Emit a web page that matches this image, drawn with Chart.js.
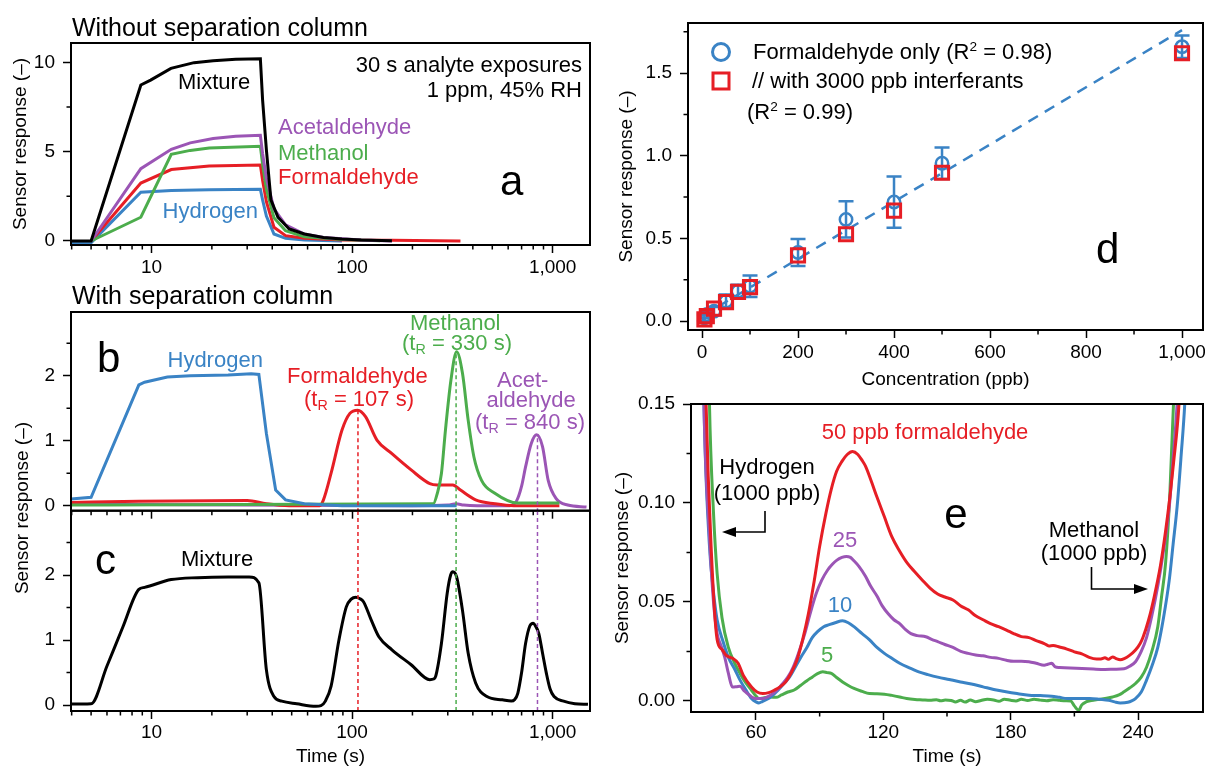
<!DOCTYPE html>
<html>
<head>
<meta charset="utf-8">
<title>Formaldehyde sensing with and without a separation column</title>
<script src="https://cdn.jsdelivr.net/npm/chart.js@4.4.1/dist/chart.umd.min.js"></script>
<style>
  html, body { margin: 0; padding: 0; background: #fff; }
  #fig { position: relative; width: 1205px; height: 767px; overflow: hidden;
         font-family: 'Liberation Sans', Arial, Helvetica, sans-serif; color: #000; }
  #fig canvas { position: absolute; left: 0; top: 0; }
  .lbl { position: absolute; white-space: nowrap; line-height: 1; }
  .lbl sub { font-size: 0.65em; vertical-align: -0.3em; line-height: 0; }
  .lbl sup { font-size: 0.62em; vertical-align: 0.62em; line-height: 0; }
  #arrows { position: absolute; left: 0; top: 0; }
</style>
</head>
<body>
<div id="fig">
  <canvas id="pa" width="1205" height="767"></canvas>
  <canvas id="pb" width="1205" height="767"></canvas>
  <canvas id="pc" width="1205" height="767"></canvas>
  <canvas id="pd" width="1205" height="767"></canvas>
  <canvas id="pe" width="1205" height="767"></canvas>
  <svg id="arrows" width="1205" height="767">
    <path d="M765 511 V532 H733" stroke="#000" stroke-width="1.6" fill="none"/>
    <polygon points="722,532 736,527 736,537" fill="#000"/>
    <path d="M1091.5 567 V589 H1136" stroke="#000" stroke-width="1.6" fill="none"/>
    <polygon points="1148,589 1134,584 1134,594" fill="#000"/>
  </svg>
</div>
<script>
// ---------- Panel a: response without separation column (log time axis) ----------
const aMixtureT = [3.9, 5.0, 8.85, 9.9, 12.5, 16.3, 20.3, 26.3, 34.9, 35.8, 37.4, 39.4, 42.7, 48.6, 57.8, 72, 89, 111, 158];
const aMixtureR = [0, 0, 8.73, 9.0, 9.66, 9.98, 10.09, 10.17, 10.2, 7.9, 5.1, 2.3, 1.33, 0.67, 0.39, 0.2, 0.11, 0.06, 0.02];
const aAcetT = [5.0, 8.85, 12.55, 15.6, 20.3, 26.3, 34.9, 35.8, 37.4, 40.8, 46.6, 57.8, 72, 111, 158];
const aAcetR = [0, 4.05, 5.13, 5.49, 5.73, 5.86, 5.92, 4.9, 3.5, 1.8, 0.9, 0.39, 0.2, 0.06, 0.0];
const aMethT = [5.0, 8.85, 12.55, 15.6, 19.4, 34.9, 35.8, 37.4, 40.8, 46.6, 57.8, 89, 138];
const aMethR = [0, 1.33, 4.85, 5.07, 5.2, 5.3, 4.3, 2.9, 1.3, 0.58, 0.24, 0.09, 0.02];
const aFormT = [5.0, 8.85, 12.55, 19.4, 34.9, 35.8, 37.4, 40.8, 46.6, 57.8, 89, 158, 347];
const aFormR = [0, 3.24, 4.0, 4.19, 4.25, 3.4, 2.2, 0.77, 0.3, 0.15, 0.06, 0.04, 0.0];
const aHydT = [3.9, 5.0, 8.85, 12.55, 19.4, 34.9, 35.8, 37.4, 40.8, 46.6, 57.8, 89];
const aHydR = [-0.1, -0.1, 2.73, 2.83, 2.87, 2.9, 2.3, 1.4, 0.39, 0.15, 0.06, 0.0];

// ---------- Panel b: single analytes with separation column ----------
const bHydT = [3.9, 5.0, 8.65, 9.24, 12.0, 15.6, 24.1, 31.4, 34.3, 37.4, 41.6, 46.6, 57.8, 89, 332];
const bHydR = [0.1, 0.13, 1.86, 1.9, 1.98, 2.0, 2.01, 2.03, 2.02, 1.11, 0.24, 0.09, 0.03, 0.0, 0.0];
const bFormT = [3.9, 8.65, 30, 37.4, 48.6, 69, 72, 78.6, 89, 97.5, 106.7, 116.7, 133, 158, 197, 244, 266, 318, 347, 413, 515, 640, 1080];
const bFormR = [0.05, 0.07, 0.08, 0.03, 0.0, 0.0, 0.09, 0.5, 1.16, 1.42, 1.47, 1.37, 1.01, 0.8, 0.55, 0.34, 0.32, 0.32, 0.24, 0.09, 0.03, 0.0, 0.0];
const bMethT = [3.9, 254, 266, 279, 292, 311, 332, 355, 379, 405, 442, 515, 670, 1080];
const bMethR = [0.01, 0.03, 0.19, 0.5, 1.16, 1.93, 2.37, 2.04, 1.32, 0.75, 0.39, 0.19, 0.04, 0.04];
const bAcetT = [3.9, 200, 300, 330, 360, 420, 612, 660, 700, 733, 783, 832, 890, 950, 1041, 1188, 1475];
const bAcetR = [0.025, 0.0, 0.01, 0.03, 0.01, 0.0, 0.0, 0.07, 0.3, 0.6, 0.96, 1.09, 0.91, 0.39, 0.11, 0.01, -0.02];

// Retention times and their peak heights in panel b
const retentionTimes = [107, 330, 840];
const retentionPeaks = [1.46, 2.37, 1.09];

// ---------- Panel c: mixture with separation column ----------
const cMixT = [3.9, 5.0, 6.0, 7.2, 8.65, 9.24, 12.55, 17.0, 24.1, 30.7, 34.3, 37.4, 40.8, 44.6, 53, 66, 70, 73.6, 78.6, 86, 93.6, 99, 104.5, 109, 114, 124.5, 136, 158, 197, 244, 255, 261, 279, 298, 310, 318, 332, 355, 379, 413, 470, 561, 622, 645, 670, 700, 733, 770, 800, 820, 853, 890, 930, 970, 1016, 1134, 1290, 1500];
const cMixR = [0.015, 0.02, 0.6, 1.2, 1.78, 1.81, 1.93, 1.96, 1.97, 1.97, 1.88, 0.54, 0.13, 0.06, 0.02, -0.02, -0.01, 0.06, 0.29, 1.0, 1.51, 1.63, 1.66, 1.64, 1.59, 1.31, 1.05, 0.85, 0.62, 0.39, 0.40, 0.44, 0.95, 1.72, 2.0, 2.05, 1.97, 1.46, 0.8, 0.34, 0.13, 0.08, 0.06, 0.08, 0.18, 0.5, 0.95, 1.22, 1.26, 1.22, 1.1, 0.8, 0.49, 0.25, 0.13, 0.06, 0.02, 0.01];

// ---------- Panel d: calibration ----------
const dConc = [5, 10, 25, 50, 75, 100, 200, 300, 400, 500, 1000];
const dOnly = [0.02, 0.04, 0.06, 0.12, 0.18, 0.21, 0.415, 0.615, 0.72, 0.955, 1.66];
const dOnlyErr = [0.02, 0.02, 0.025, 0.04, 0.04, 0.065, 0.082, 0.11, 0.155, 0.095, 0.068];
const dInterf = [0.01, 0.03, 0.075, 0.115, 0.177, 0.205, 0.397, 0.525, 0.668, 0.897, 1.62];
const dFitX = [0, 1000];
const dFitY = [0.03, 1.76];

// ---------- Panel e: low-concentration formaldehyde between H2 and MeOH ----------
const e50T = [34, 36.5, 39, 41.7, 44, 46, 49, 51.6, 54, 57.9, 60.5, 63.2, 66, 68.6, 71.5, 74, 76.5, 79.3, 82, 84.7, 87.5, 90, 93, 95.5, 98, 100.5, 103, 105.5, 108, 110, 111.6, 114, 117, 120.5, 124, 127.5, 131.3, 135, 138.4, 142, 145.6, 149, 152.8, 156.5, 160, 163.5, 167, 170.5, 174.3, 178, 181.4, 185, 188.6, 192, 195.8, 198, 200, 203, 206.5, 210, 213.5, 217, 220.5, 222.5, 224.4, 226, 228, 230, 231.6, 233.5, 236, 238.8, 241, 242.3, 245, 247.7, 250.5, 253, 255, 256.7, 259.3, 262];
const e50R = [0.30, 0.15, 0.075, 0.031, 0.026, 0.023, 0.0215, 0.019, 0.013, 0.007, 0.0045, 0.0037, 0.0042, 0.0054, 0.0072, 0.0096, 0.014, 0.0206, 0.031, 0.044, 0.061, 0.078, 0.095, 0.107, 0.116, 0.121, 0.1245, 0.126, 0.1245, 0.1215, 0.1186, 0.112, 0.103, 0.093, 0.083, 0.076, 0.0696, 0.065, 0.061, 0.057, 0.054, 0.0525, 0.051, 0.048, 0.046, 0.043, 0.041, 0.039, 0.0375, 0.0358, 0.034, 0.0325, 0.032, 0.0305, 0.029, 0.0278, 0.028, 0.0272, 0.0262, 0.0248, 0.0238, 0.022, 0.0212, 0.0212, 0.0218, 0.021, 0.0222, 0.0212, 0.0208, 0.0214, 0.023, 0.0257, 0.029, 0.032, 0.041, 0.053, 0.068, 0.086, 0.103, 0.120, 0.15, 0.21];
const e25T = [33.5, 35.5, 38, 40, 41.7, 43.5, 45.3, 47, 48.9, 51, 52.5, 54.5, 56, 58, 59.6, 63.2, 66.8, 69.5, 72, 75, 77.5, 80, 83, 85.5, 88.3, 91, 93.7, 96, 98, 100.5, 102.6, 104.5, 106, 108.5, 111.6, 114, 117, 119.5, 122.3, 125, 127.7, 130.5, 133, 136, 140, 143, 145.6, 149, 152.8, 156.5, 160, 163.5, 167, 170.5, 174.3, 178, 181.4, 185, 188.6, 192, 195.8, 197.5, 199.3, 201, 203, 208, 213.6, 219, 224.4, 229, 233.4, 236, 238.8, 241.5, 244, 246.5, 249.3, 252, 254.7, 256.5, 258.4, 261];
const e25R = [0.30, 0.15, 0.085, 0.05, 0.034, 0.028, 0.022, 0.014, 0.007, 0.0072, 0.0074, 0.005, 0.0037, 0.002, 0.0012, 0.0012, 0.0029, 0.005, 0.008, 0.012, 0.017, 0.024, 0.034, 0.044, 0.054, 0.061, 0.066, 0.069, 0.071, 0.0725, 0.073, 0.0725, 0.071, 0.068, 0.063, 0.058, 0.053, 0.048, 0.044, 0.041, 0.039, 0.036, 0.034, 0.033, 0.0324, 0.031, 0.030, 0.0285, 0.027, 0.025, 0.024, 0.0232, 0.0228, 0.022, 0.0215, 0.0205, 0.020, 0.0200, 0.0198, 0.019, 0.018, 0.0185, 0.019, 0.0172, 0.0169, 0.0166, 0.0164, 0.0161, 0.0159, 0.016, 0.0162, 0.0175, 0.0198, 0.025, 0.032, 0.043, 0.058, 0.076, 0.098, 0.122, 0.15, 0.21];
const e10T = [33.5, 35.5, 38, 40, 41.7, 44.5, 47, 50, 52.5, 55, 57.9, 60, 61.4, 63, 65, 67.5, 70.4, 73, 75.8, 78.5, 81.1, 84, 86.5, 89, 91.9, 94.5, 97.3, 100.8, 103.5, 106.2, 110, 113.4, 117, 120.5, 124, 127.7, 132, 136.7, 141, 145.6, 151, 156.4, 161.5, 167, 172, 177.8, 183, 188.6, 194, 199.3, 203, 206.5, 212, 217.3, 222, 226.2, 229, 231.6, 235.2, 237, 238.8, 241.5, 244, 246.5, 249.3, 252, 254.7, 256.5, 258.4, 260.3, 262, 264];
const e10R = [0.30, 0.15, 0.08, 0.055, 0.041, 0.03, 0.022, 0.016, 0.0105, 0.006, 0.0012, -0.0005, -0.001, -0.0003, 0.0007, 0.0025, 0.0054, 0.0085, 0.012, 0.017, 0.022, 0.027, 0.032, 0.035, 0.0375, 0.0385, 0.0395, 0.0405, 0.0395, 0.0375, 0.034, 0.031, 0.027, 0.024, 0.0215, 0.019, 0.0168, 0.0147, 0.0133, 0.012, 0.0108, 0.0096, 0.0085, 0.0071, 0.0058, 0.0046, 0.0037, 0.0029, 0.0027, 0.0024, 0.0018, 0.0012, 0.0012, 0.0012, 0.0008, 0.0003, -0.0005, -0.001, -0.0007, 0.0, 0.0012, 0.0045, 0.0105, 0.0175, 0.027, 0.042, 0.061, 0.079, 0.098, 0.124, 0.15, 0.2];
const e5T = [36, 38.1, 40, 41.7, 44, 47, 50, 52.5, 55, 57.9, 60, 61.4, 63.5, 66.8, 69.5, 72, 75, 78, 81, 84, 86.5, 89, 91.5, 93.5, 95.5, 98, 100.8, 103.5, 106.2, 110, 113.4, 117, 120.5, 124, 127.7, 131, 134.9, 138.5, 142, 145, 147, 149.2, 152, 154, 156.4, 158.5, 161, 163.5, 166, 169, 172, 174.5, 177, 180, 182.5, 185, 188, 191, 194, 197, 200, 203, 206, 208.3, 210, 212, 213.5, 215.5, 218, 221, 224.5, 228, 231, 233.4, 236, 238.8, 241.5, 244, 246.5, 249.3, 251, 253, 255, 256.7, 258];
const e5R = [0.30, 0.15, 0.095, 0.0645, 0.042, 0.027, 0.019, 0.0139, 0.0095, 0.0054, 0.0025, 0.0012, 0.0015, 0.002, 0.0018, 0.0030, 0.0045, 0.0055, 0.0078, 0.0102, 0.012, 0.0138, 0.0147, 0.0143, 0.0139, 0.0118, 0.0096, 0.0078, 0.0063, 0.0048, 0.0037, 0.0036, 0.0034, 0.0028, 0.002, 0.0012, 0.0007, 0.0005, 0.0003, 0.0006, 0.0001, 0.0004, 0.0002, -0.0005, 0.0003, -0.0006, 0.0004, -0.0004, 0.0002, 0.0008, 0.0005, -0.0002, 0.0009, 0.0003, 0.0, 0.0008, 0.0002, 0.0009, 0.0004, 0.0001, 0.0006, 0.0003, 0.0001, 0.0, -0.0025, -0.0047, -0.002, -0.0005, 0.0002, 0.0007, 0.0012, 0.002, 0.003, 0.0046, 0.0065, 0.0088, 0.012, 0.017, 0.025, 0.0375, 0.052, 0.07, 0.105, 0.15, 0.2];

// ---------- Axis ticks ----------
const logMajor = [10, 100, 1000];
const logMinor = [4, 5, 6, 7, 8, 9, 20, 30, 40, 50, 60, 70, 80, 90, 200, 300, 400, 500, 600, 700, 800, 900];
const aYMajor = [0, 5, 10], aYMinor = [2.5, 7.5];
const bcYMajor = [0, 1, 2], bcYMinor = [0.5, 1.5, 2.5];
const dXMajor = [0, 200, 400, 600, 800, 1000], dXMinor = [100, 300, 500, 700, 900];
const dYMajor = [0, 0.5, 1.0, 1.5], dYMinor = [0.25, 0.75, 1.25, 1.75];
const eXMajor = [60, 120, 180, 240], eXMinor = [90, 150, 210];
const eYMajor = [0, 0.05, 0.10, 0.15], eYMinor = [0.025, 0.075, 0.125];

const BLUE = '#3a83c5', RED = '#e61e25', GREEN = '#4cad4c', PURPLE = '#9b55b5', BLACK = '#000';
const LW = 3;

Chart.defaults.font.family = "'Liberation Sans', Arial, Helvetica, sans-serif";
Chart.defaults.font.size = 19;
Chart.defaults.color = '#000';

const pts = (xs, ys) => xs.map((x, i) => ({ x, y: ys[i] }));
const fmtThousands = v => Number(v).toLocaleString('en-US');

// Box frame and short minor ticks drawn around each plot area
const frameTicks = {
  id: 'frameTicks',
  afterDraw(chart, args, o) {
    const { ctx, chartArea: a } = chart;
    const sx = chart.scales.x, sy = chart.scales.y;
    ctx.save();
    ctx.strokeStyle = '#000';
    ctx.lineWidth = 1.5;
    ctx.beginPath();
    (o.minorX || []).forEach(v => {
      const px = sx.getPixelForValue(v);
      ctx.moveTo(px, a.bottom); ctx.lineTo(px, a.bottom + 4.5);
    });
    (o.minorY || []).forEach(v => {
      const py = sy.getPixelForValue(v);
      ctx.moveTo(a.left, py); ctx.lineTo(a.left - 4.5, py);
    });
    ctx.stroke();
    ctx.lineWidth = 2;
    ctx.strokeRect(a.left, a.top, a.right - a.left, a.bottom - a.top);
    ctx.restore();
  }
};

// Vertical error bars with caps, painted just after the fit line
const errorBars = {
  id: 'errorBars',
  afterDatasetDraw(chart, args, o) {
    if (!o || args.index !== o.after) return;
    const sx = chart.scales.x, sy = chart.scales.y, ctx = chart.ctx;
    ctx.save();
    ctx.strokeStyle = o.color;
    ctx.lineWidth = 2.5;
    o.x.forEach((xv, i) => {
      const px = sx.getPixelForValue(xv);
      const top = sy.getPixelForValue(o.y[i] + o.err[i]);
      const bot = sy.getPixelForValue(o.y[i] - o.err[i]);
      ctx.beginPath();
      ctx.moveTo(px, top); ctx.lineTo(px, bot);
      ctx.moveTo(px - o.cap, top); ctx.lineTo(px + o.cap, top);
      ctx.moveTo(px - o.cap, bot); ctx.lineTo(px + o.cap, bot);
      ctx.stroke();
    });
    ctx.restore();
  }
};

function makePanel(id, p) {
  const W = 1205, H = 767;
  const yW = p.yWidth || 60, xH = p.xHeight || 40;
  const tickGrid = { display: true, drawOnChartArea: false, drawTicks: true, tickLength: 8, tickWidth: 1.5, color: '#000' };
  const title = t => t ? { display: true, text: t, font: { size: 19, lineHeight: 1 }, padding: 0 } : { display: false };
  return new Chart(document.getElementById(id), {
    type: 'line',
    data: { datasets: p.datasets },
    options: {
      responsive: false, animation: false, events: [],
      layout: { autoPadding: false, padding: { left: p.area.l - yW, top: p.area.t, right: W - p.area.r, bottom: H - p.area.b - xH } },
      plugins: {
        legend: { display: false }, tooltip: { enabled: false },
        frameTicks: { minorX: p.minorX, minorY: p.minorY },
        errorBars: p.errorBars || false
      },
      elements: { point: { radius: 0 }, line: { borderWidth: LW, tension: 0 } },
      scales: {
        x: {
          type: p.xType, min: p.xMin, max: p.xMax, bounds: 'data',
          border: { display: false }, grid: tickGrid,
          ticks: { display: p.xLabels !== false, padding: p.xPad, maxRotation: 0, autoSkip: false, callback: p.xFmt || (v => v) },
          afterBuildTicks: s => { s.ticks = p.xMajor.map(v => ({ value: v })); },
          afterFit: s => { s.height = xH; s.paddingLeft = 0; s.paddingRight = 0; s.paddingTop = 0; s.paddingBottom = 0; },
          title: title(p.xTitle)
        },
        y: {
          type: 'linear', min: p.yMin, max: p.yMax, bounds: 'data',
          border: { display: false }, grid: tickGrid,
          ticks: { padding: 8, autoSkip: false, callback: p.yFmt || (v => v) },
          afterBuildTicks: s => { s.ticks = p.yMajor.map(v => ({ value: v })); },
          afterFit: s => { s.width = yW; s.paddingLeft = 0; s.paddingRight = 0; s.paddingTop = 0; s.paddingBottom = 0; },
          title: title(p.yTitle)
        }
      }
    },
    plugins: [frameTicks, errorBars]
  });
}

const curve = (xs, ys, color, extra) => Object.assign({ data: pts(xs, ys), borderColor: color, borderWidth: LW, pointRadius: 0 }, extra || {});
const smooth = { cubicInterpolationMode: 'monotone' };
const rtColors = [RED, GREEN, PURPLE];

// Panel a
makePanel('pa', {
  area: { l: 71, t: 43, r: 590, b: 245 }, yWidth: 59.5, xHeight: 40,
  xType: 'logarithmic', xMin: 3.97, xMax: 1535, xMajor: logMajor, minorX: logMinor, xPad: 3.6, xFmt: fmtThousands,
  yMin: -0.224, yMax: 11.08, yMajor: aYMajor, minorY: aYMinor, yTitle: 'Sensor response (–)',
  datasets: [
    curve(aMixtureT, aMixtureR, BLACK),
    curve(aAcetT, aAcetR, PURPLE),
    curve(aMethT, aMethR, GREEN),
    curve(aFormT, aFormR, RED),
    curve(aHydT, aHydR, BLUE)
  ]
});

// Panel b
makePanel('pb', {
  area: { l: 71, t: 312, r: 590, b: 510.7 }, yWidth: 60, xHeight: 40,
  xType: 'logarithmic', xMin: 3.97, xMax: 1535, xMajor: logMajor, minorX: logMinor, xLabels: false,
  yMin: -0.077, yMax: 2.98, yMajor: bcYMajor, minorY: bcYMinor,
  datasets: retentionTimes.map((t, i) => curve([t, t], [-0.1, retentionPeaks[i]], rtColors[i], { borderWidth: 1.5, borderDash: [4, 3] }))
    .concat([
      curve(bHydT, bHydR, BLUE),
      curve(bMethT, bMethR, GREEN, smooth),
      curve(bFormT, bFormR, RED, smooth),
      curve(bAcetT, bAcetR, PURPLE, smooth)
    ])
});

// Panel c
makePanel('pc', {
  area: { l: 71, t: 510.7, r: 590, b: 711 }, yWidth: 60, xHeight: 55.5,
  xType: 'logarithmic', xMin: 3.97, xMax: 1535, xMajor: logMajor, minorX: logMinor, xPad: 2.6, xFmt: fmtThousands, xTitle: 'Time (s)',
  yMin: -0.092, yMax: 2.99, yMajor: bcYMajor, minorY: bcYMinor,
  datasets: retentionTimes.map((t, i) => curve([t, t], [-0.2, 3.2], rtColors[i], { borderWidth: 1.5, borderDash: [4, 3] }))
    .concat([curve(cMixT, cMixR, BLACK, smooth)])
});

// Panel d
makePanel('pd', {
  area: { l: 688, t: 23, r: 1203, b: 330 }, yWidth: 70.5, xHeight: 59.5,
  xType: 'linear', xMin: -29.2, xMax: 1043.7, xMajor: dXMajor, minorX: dXMinor, xPad: 3.6, xFmt: fmtThousands, xTitle: 'Concentration (ppb)',
  yMin: -0.054, yMax: 1.803, yMajor: dYMajor, minorY: dYMinor, yFmt: v => v.toFixed(1), yTitle: 'Sensor response (–)',
  errorBars: { after: 2, x: dConc, y: dOnly, err: dOnlyErr, color: BLUE, cap: 7.5 },
  datasets: [
    { data: pts(dConc, dInterf), showLine: false, pointStyle: 'rect', pointRadius: 9.3, pointBorderWidth: 3, pointBorderColor: RED, pointBackgroundColor: 'rgba(0,0,0,0)' },
    { data: pts(dConc, dOnly), showLine: false, pointStyle: 'circle', pointRadius: 6.2, pointBorderWidth: 2.5, pointBorderColor: BLUE, pointBackgroundColor: 'rgba(0,0,0,0)' },
    curve(dFitX, dFitY, BLUE, { borderDash: [11, 8], borderWidth: 2.5 })
  ]
});

// Panel e
makePanel('pe', {
  area: { l: 691, t: 404, r: 1203, b: 712 }, yWidth: 77.5, xHeight: 54.5,
  xType: 'linear', xMin: 29.4, xMax: 270.6, xMajor: eXMajor, minorX: eXMinor, xPad: 1.6, xTitle: 'Time (s)',
  yMin: -0.0056, yMax: 0.15, yMajor: eYMajor, minorY: eYMinor, yFmt: v => v.toFixed(2), yTitle: 'Sensor response (–)',
  datasets: [
    curve(e50T, e50R, RED, smooth),
    curve(e25T, e25R, PURPLE, smooth),
    curve(e10T, e10R, BLUE, smooth),
    curve(e5T, e5R, GREEN, smooth)
  ]
});

// ---------- Text annotations ----------
const fig = document.getElementById('fig');
function label(html, x, y, align, size, color, extraCss) {
  const d = document.createElement('div');
  d.className = 'lbl';
  d.innerHTML = html;
  const tx = align === 'center' ? '-50%' : align === 'right' ? '-100%' : '0';
  d.style.cssText = `left:${x}px;top:${y}px;font-size:${size}px;color:${color || '#000'};transform:translate(${tx},-50%);` + (extraCss || '');
  fig.appendChild(d);
  return d;
}
const AN = 22, BIG = 42;
// a
label('Without separation column', 72, 27, 'left', 25);
label('Mixture', 178, 82, 'left', AN);
label('30 s analyte exposures', 582, 65, 'right', AN);
label('1 ppm, 45% RH', 582, 90, 'right', AN);
label('Acetaldehyde', 278, 127, 'left', AN, PURPLE);
label('Methanol', 278, 153, 'left', AN, GREEN);
label('Formaldehyde', 278, 177, 'left', AN, RED);
label('Hydrogen', 162.5, 211, 'left', AN, BLUE);
label('a', 500, 181, 'left', BIG);
// b
label('With separation column', 72, 295, 'left', 25);
label('b', 97, 358, 'left', BIG);
label('Hydrogen', 167.5, 360, 'left', AN, BLUE);
label('Formaldehyde', 287, 376, 'left', AN, RED);
label('(t<sub>R</sub> = 107 s)', 304, 399, 'left', AN, RED);
label('Methanol', 410, 323, 'left', AN, GREEN);
label('(t<sub>R</sub> = 330 s)', 402, 343, 'left', AN, GREEN);
label('Acet-', 497, 380, 'left', AN, PURPLE);
label('aldehyde', 486.5, 400, 'left', AN, PURPLE);
label('(t<sub>R</sub> = 840 s)', 475, 422, 'left', AN, PURPLE);
// c
label('c', 95, 560, 'left', BIG);
label('Mixture', 181, 559, 'left', AN);
label('Sensor response (–)', 21, 508, 'center', 19, '#000', 'transform:translate(-50%,-50%) rotate(-90deg);');
// d legend
label('', 721, 52, 'center', 10, '', `width:14px;height:14px;border:3.5px solid ${BLUE};border-radius:50%;transform:translate(-50%,-50%);`);
label('Formaldehyde only (R<sup>2</sup> = 0.98)', 753, 52, 'left', AN);
label('', 721, 81, 'center', 10, '', `width:13px;height:13px;border:3.5px solid ${RED};transform:translate(-50%,-50%);`);
label('// with 3000 ppb interferants', 752, 81, 'left', AN);
label('(R<sup>2</sup> = 0.99)', 747, 112, 'left', AN);
label('d', 1096, 249, 'left', BIG);
// e
label('50 ppb formaldehyde', 925, 432, 'center', AN, RED);
label('25', 845, 540, 'center', AN, PURPLE);
label('10', 840, 605, 'center', AN, BLUE);
label('5', 827, 655, 'center', AN, GREEN);
label('e', 956, 514, 'center', BIG);
label('Hydrogen', 767, 467, 'center', AN);
label('(1000 ppb)', 767, 493, 'center', AN);
label('Methanol', 1094, 530, 'center', AN);
label('(1000 ppb)', 1094, 553, 'center', AN);
</script>
</body>
</html>
